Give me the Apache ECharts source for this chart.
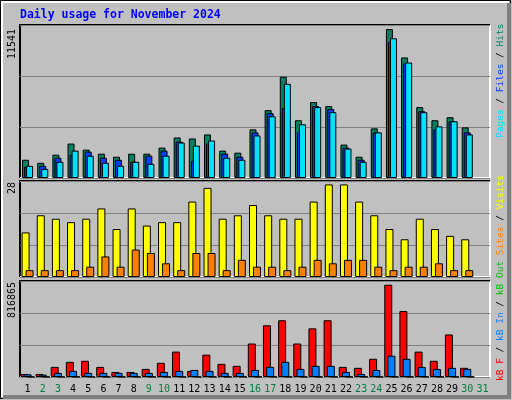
<!DOCTYPE html>
<html><head><meta charset="utf-8">
<script src="https://cdn.jsdelivr.net/npm/echarts@6/dist/echarts.min.js"></script>
<style>html,body{margin:0;padding:0;background:#c0c0c0}#c{width:512px;height:400px}</style>
</head><body><div id="c"></div>
<script>
const days = ['1','2','3','4','5','6','7','8','9','10','11','12','13','14','15','16','17','18','19','20','21','22','23','24','25','26','27','28','29','30','31'];
const weekend = ['2','3','9','10','16','17','23','24','30','31'];
const hits  = [1375,1146,1757,2598,2139,1834,1604,1834,1834,2292,3056,2980,3285,2063,1910,3667,5119,7640,4355,5730,5424,2521,1604,3744,11231,9092,5348,4355,4584,3820,null];
const files = [840,917,1528,1757,1986,1528,1375,1222,1681,2063,2750,1300,2598,1834,1604,3438,4890,5272,3438,5424,5195,2292,1375,3438,10237,8634,5042,3667,4278,3438,null];
const pages = [917,688,1222,2063,1681,1146,917,1222,1070,1681,2674,2445,2827,1528,1375,3209,4660,7105,4049,5348,4966,2216,1222,3438,10543,8710,4966,3896,4278,3285,null];
const visits = [13,18,17,16,17,20,14,20,15,16,16,22,26,17,18,21,18,17,17,22,27,27,22,18,14,11,17,14,12,11,null];
const sites  = [2,2,2,2,3,6,3,8,7,4,2,7,7,2,5,3,3,2,3,5,4,5,5,3,2,3,3,4,2,2,null];
const kbF  = [26000,26000,86000,129000,138000,86000,43000,43000,69000,121000,216000,52000,190000,112000,95000,285000,440000,483000,285000,414000,483000,86000,78000,155000,785000,561000,216000,138000,362000,78000,null];
const kbIn = [23000,20000,35000,52000,35000,35000,35000,35000,35000,43000,52000,60000,52000,35000,35000,60000,86000,129000,69000,95000,95000,43000,26000,60000,181000,155000,86000,69000,78000,69000,null];
const kbOut= [3000,3000,3000,3000,3000,3000,3000,3000,3000,3000,3000,3000,3000,3000,3000,3000,3000,3000,3000,3000,3000,3000,3000,3000,3000,3000,3000,3000,3000,3000,null];
const maxHits = 11541, maxVisits = 28, maxKB = 816865;

const F = 'DejaVu Sans Mono, monospace';
const chart = echarts.init(document.getElementById('c'));
const L = 20, R = 22;
const grids = [{left:L,right:R,top:25,height:153},{left:L,right:R,top:181,height:96},{left:L,right:R,top:281,height:96}];
function xa(i, lab){return {type:'category',gridIndex:i,data:days,axisLine:{show:false},axisTick:{show:false},
  axisLabel:{show:lab,interval:0,margin:7,formatter:v=>weekend.includes(v)?'{w|'+v+'}':'{n|'+v+'}',
  rich:{w:{color:'#008040',fontFamily:F,fontSize:10},n:{color:'#000',fontFamily:F,fontSize:10}}}};}
function ya(i,max){return {type:'value',gridIndex:i,min:0,max:max,interval:max/3,axisLabel:{show:false},axisLine:{show:false},axisTick:{show:false},
  splitLine:{lineStyle:{color:'#808080',width:1}}};}
const bs = {borderColor:'#000',borderWidth:1};
function bar(name,data,xi,color,w,gap){return {name,type:'bar',xAxisIndex:xi,yAxisIndex:xi,data,barWidth:w,barGap:gap,
  itemStyle:Object.assign({color},bs),animation:false};}
function frame(g){const x0=g.left,y0=g.top,x1=512-g.right,y1=g.top+g.height;return [
  {type:'polyline',shape:{points:[[x0,y1],[x0,y0],[x1,y0]]},style:{stroke:'#000',lineWidth:2,fill:null}},
  {type:'polyline',shape:{points:[[x1,y0],[x1,y1],[x0,y1]]},style:{stroke:'#fff',lineWidth:2,fill:null}}];}
function ylab(t,y){return {type:'text',x:17,y:y,rotation:Math.PI/2,style:{text:t,fill:'#000',font:'10px '+F,align:'right',verticalAlign:'bottom'}};}
function rlab(parts,y){const rich={};let s='';parts.forEach((p,i)=>{rich['p'+i]={fill:p[1],font:'9.5px '+F};s+='{p'+i+'|'+p[0]+'}';});
  return {type:'text',x:501,y:y,rotation:Math.PI/2,style:{text:s,rich,align:'left',verticalAlign:'middle',fill:'#000'}};}
chart.setOption({
  backgroundColor:'#c0c0c0',animation:false,
  grid:grids,
  xAxis:[xa(0,false),xa(1,false),xa(2,true)],
  yAxis:[ya(0,maxHits),ya(1,maxVisits),ya(2,maxKB)],
  series:[
    bar('Hits',hits,0,'#008060',7,'-71%'),bar('Files',files,0,'#0040ff',7,'-71%'),bar('Pages',pages,0,'#00e0ff',7,'-71%'),
    bar('Visits',visits,1,'#ffff00',8,'-50%'),bar('Sites',sites,1,'#ff8000',8,'-50%'),
    bar('kB F',kbF,2,'#ff0000',8,'-60%'),bar('kB In',kbIn,2,'#0080ff',8,'-60%'),bar('kB Out',kbOut,2,'#00c000',8,'-60%')
  ],
  graphic:[
    {type:'rect',shape:{x:0.5,y:0.5,width:510,height:398},style:{fill:null,stroke:'#000',lineWidth:1}},
    {type:'polyline',shape:{points:[[509,3],[509,397],[3,397]]},style:{stroke:'#808080',lineWidth:4,fill:null}},
    {type:'polyline',shape:{points:[[2,397],[2,2],[509,2]]},style:{stroke:'#fff',lineWidth:2,fill:null}},
    {type:'text',x:20,y:9,style:{text:'Daily usage for November 2024',fill:'#0000ff',font:'bold 11.5px '+F}},
    ...frame(grids[0]),...frame(grids[1]),...frame(grids[2]),
    ylab('11541',29),ylab('28',182),ylab('816865',282),
    rlab([['Pages','#00e0ff'],[' / ','#000'],['Files','#0040ff'],[' / ','#000'],['Hits','#008060']],138),
    rlab([['kB F','#ff0000'],[' / ','#000'],['kB In','#0080ff'],[' / ','#000'],['kB Out','#00c000'],[' ','#000'],['Sites','#ff8000'],[' / ','#000'],['Visits','#ffff00']],381)
  ]
});
</script></body></html>
